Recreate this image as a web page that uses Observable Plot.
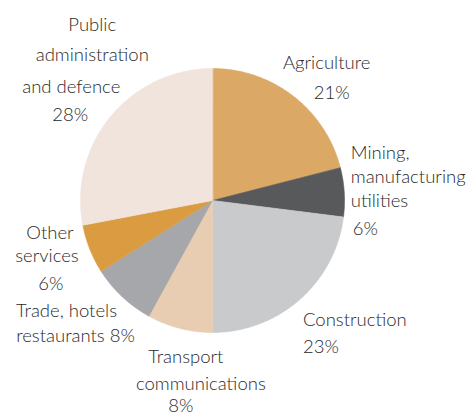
<!DOCTYPE html>
<html>
<head>
<meta charset="utf-8">
<script src="https://cdn.jsdelivr.net/npm/d3@7"></script>
<script src="https://cdn.jsdelivr.net/npm/@observablehq/plot@0.6"></script>
<style>
  html, body { margin: 0; padding: 0; background: #fff; }
  #chart { width: 471px; height: 417px; }
</style>
</head>
<body>
<div id="chart"></div>
<script>
// ---- data ----
const categories = [
  "Agriculture",
  "Mining, manufacturing utilities",
  "Construction",
  "Transport communications",
  "Trade, hotels restaurants",
  "Other services",
  "Public administration and defence"
];
const shares = [21, 6, 23, 8, 8, 6, 28];
const colors = ["#dba865", "#58595b", "#c9cacc", "#e9cdb3", "#a6a7aa", "#db9c41", "#f0e4dc"];
const labelText = [
  ["Agriculture", "21%"],
  ["Mining,", "manufacturing", "utilities", "6%"],
  ["Construction", "23%"],
  ["Transport", "communications", "8%"],
  ["Trade, hotels", "restaurants 8%"],
  ["Other", "services", "6%"],
  ["Public", "administration", "and defence", "28%"]
];

// ---- layout (not data) ----
const W = 471, H = 417, CX = 212, CY = 200, R = 132;
const labelRadius = 1.3;
const labelAnchor = ["middle", "start", "start", "middle", "middle", "middle", "middle"];
// per-line pixel offsets from the label anchor point
const labelOffsets = [
  [[9, -2], [14, 28]],
  [[-33, -37], [-33, -13], [-33, 11], [-31, 39]],
  [[-23, -9], [-23, 18]],
  [[16, -10], [31, 17], [11, 39]],
  [[-28.5, -15], [-19.5, 10]],
  [[-3, -31], [-6, -8], [-2, 20]],
  [[12, -66], [12, -36], [-9, -4], [-10, 24]]
];

const arcs = d3.pie().sort(null).value(d => d)(shares);

// slice outlines in unit-radius coordinates
const slicePts = [];
arcs.forEach((a, i) => {
  const cat = categories[i];
  slicePts.push({cat, x: 0, y: 0});
  const n = Math.max(2, Math.ceil((a.endAngle - a.startAngle) / (Math.PI / 360)));
  for (let k = 0; k <= n; k++) {
    const t = a.startAngle + (a.endAngle - a.startAngle) * k / n;
    slicePts.push({cat, x: Math.sin(t), y: Math.cos(t)});
  }
});

// labels
const labels = [];
arcs.forEach((a, i) => {
  const mid = (a.startAngle + a.endAngle) / 2;
  const bx = labelRadius * Math.sin(mid), by = labelRadius * Math.cos(mid);
  labelText[i].forEach((t, j) => {
    const [dx, dy] = labelOffsets[i][j];
    labels.push({text: t, x: bx + dx / R, y: by - dy / R, anchor: labelAnchor[i]});
  });
});

const xDomain = [-CX / R, (W - CX) / R];
const yDomain = [-(H - CY) / R, CY / R];

const textStyle = {
  text: "text", x: "x", y: "y",
  fontSize: 18.5, fill: "#2a2a2a", fontWeight: 300,
  fontFamily: "Lato, 'Open Sans', sans-serif"
};

const chart = Plot.plot({
  width: W, height: H,
  margin: 0,
  x: {domain: xDomain, axis: null},
  y: {domain: yDomain, axis: null},
  color: {domain: categories, range: colors},
  marks: [
    Plot.line(slicePts, {x: "x", y: "y", z: "cat", fill: "cat", stroke: "cat", strokeWidth: 0.6, curve: "linear-closed"}),
    Plot.text(labels.filter(d => d.anchor === "middle"), {...textStyle, textAnchor: "middle"}),
    Plot.text(labels.filter(d => d.anchor === "start"), {...textStyle, textAnchor: "start"})
  ]
});
document.getElementById("chart").appendChild(chart);
</script>
</body>
</html>
